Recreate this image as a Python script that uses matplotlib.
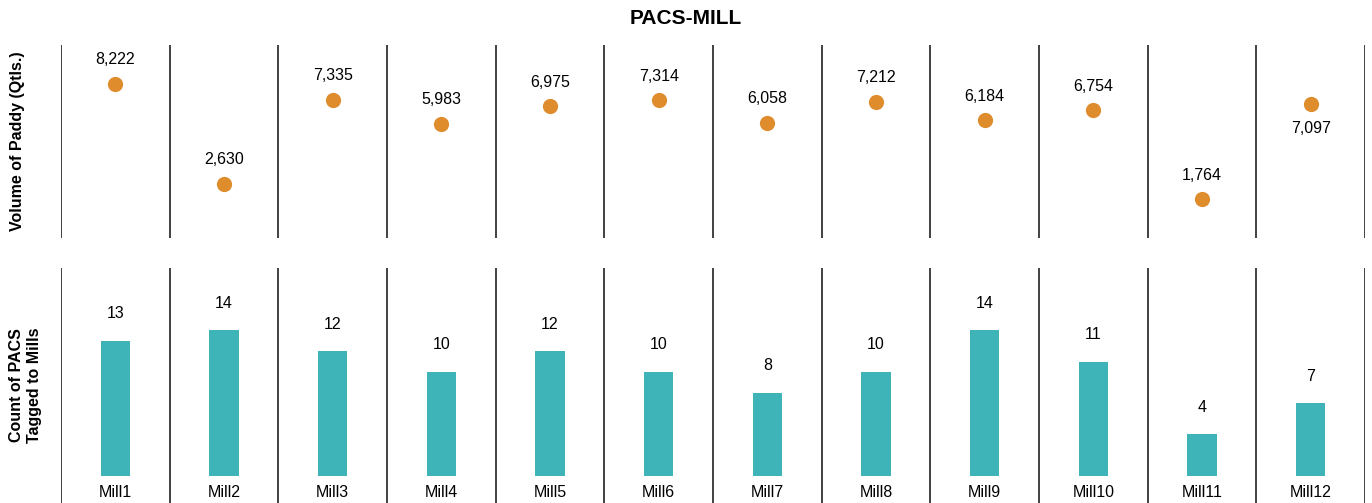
import numpy as np
import matplotlib.pyplot as plt

plt.rcParams['font.family'] = ['Liberation Sans', 'DejaVu Sans']

mills = ['Mill1', 'Mill2', 'Mill3', 'Mill4', 'Mill5', 'Mill6',
         'Mill7', 'Mill8', 'Mill9', 'Mill10', 'Mill11', 'Mill12']
paddy_volume = [8222, 2630, 7335, 5983, 6975, 7314, 6058, 7212, 6184, 6754, 1764, 7097]
pacs_count = [13, 14, 12, 10, 12, 10, 8, 10, 14, 11, 4, 7]

W, H = 1372, 503
fig = plt.figure(figsize=(W / 100, H / 100), dpi=100)

left, right = 61 / W, 1365 / W
ax1 = fig.add_axes([left, 1 - 238 / H, right - left, (238 - 45) / H])
ax2 = fig.add_axes([left, 0, right - left, (503 - 268) / H])

x = np.arange(len(mills))
dot_color = '#DF8C2C'
bar_color = '#3EB4B9'
line_color = '#333333'

# top panel - volume of paddy
ax1.scatter(x, paddy_volume, s=120, color=dot_color, zorder=3, linewidths=0)
for i, v in enumerate(paddy_volume):
    off = -24 if mills[i] == 'Mill12' else 24  # last label sits under the dot
    ax1.annotate(f'{v:,}', (i, v), xytext=(0, off), textcoords='offset pixels',
                 ha='center', va='center', fontsize=11.5)
ax1.set_ylim(-400, 10400)
ax1.set_ylabel('Volume of Paddy (Qtls.)', fontsize=11.5, weight='bold', labelpad=26)

# bottom panel - count of PACS
bars = ax2.bar(x, pacs_count, width=0.27, color=bar_color, zorder=3)
for i, v in enumerate(pacs_count):
    ax2.annotate(str(v), (i, v), xytext=(0, 27), textcoords='offset pixels',
                 ha='center', va='center', fontsize=11.5)
ax2.set_ylim(-2.6, 20)
for i, m in enumerate(mills):
    ax2.text(i, -1.55, m, ha='center', va='center', fontsize=11.5)
ax2.set_ylabel('Count of PACS\nTagged to Mills', fontsize=11.5, weight='bold', labelpad=14)

for ax in (ax1, ax2):
    ax.set_xlim(-0.5, len(mills) - 0.5)
    for b in np.arange(-0.5, len(mills), 1.0):
        ax.axvline(b, color=line_color, lw=1.3, zorder=1)
    ax.set_xticks([])
    ax.set_yticks([])
    for s in ax.spines.values():
        s.set_visible(False)

fig.text(0.5, 1 - 18 / H, 'PACS-MILL', ha='center', va='center', fontsize=15, weight='bold')

fig.savefig('out.png', dpi=100)
